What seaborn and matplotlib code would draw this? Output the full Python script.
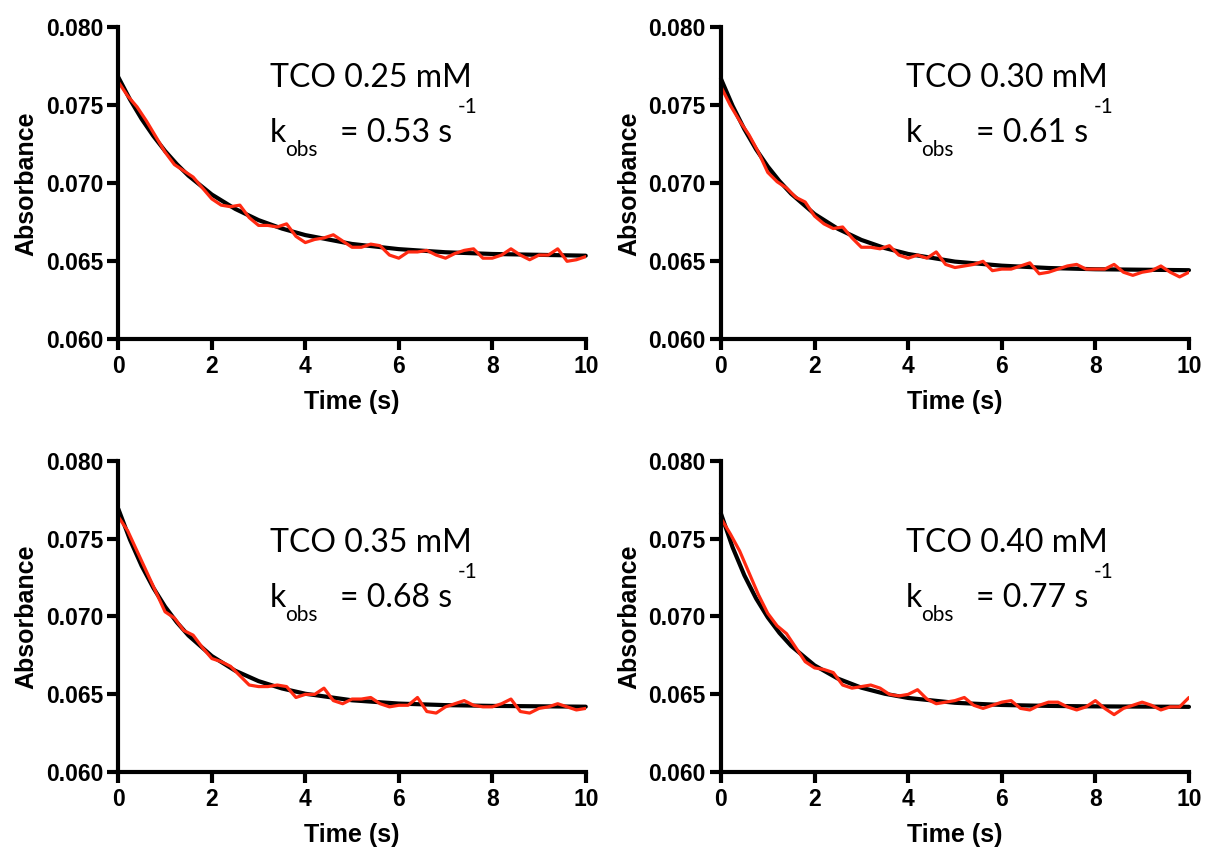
import numpy as np
import pandas as pd
import matplotlib
matplotlib.use("Agg")
import matplotlib.pyplot as plt
import seaborn as sns

# Datos: trazas de absorbancia (rojo) y ajuste exponencial (negro)

time_s = [0.0, 0.2, 0.4, 0.6, 0.8, 1.0, 1.2, 1.4, 1.6, 1.8,
          2.0, 2.2, 2.4, 2.6, 2.8, 3.0, 3.2, 3.4, 3.6, 3.8,
          4.0, 4.2, 4.4, 4.6, 4.8, 5.0, 5.2, 5.4, 5.6, 5.8,
          6.0, 6.2, 6.4, 6.6, 6.8, 7.0, 7.2, 7.4, 7.6, 7.8,
          8.0, 8.2, 8.4, 8.6, 8.8, 9.0, 9.2, 9.4, 9.6, 9.8, 10.0]

abs_025 = [0.0765, 0.0756, 0.0749, 0.0740, 0.0730, 0.0720, 0.0712, 0.0708, 0.0704, 0.0697,
           0.0690, 0.0686, 0.0685, 0.0686, 0.0678, 0.0673, 0.0673, 0.0672, 0.0674, 0.0666,
           0.0662, 0.0664, 0.0665, 0.0667, 0.0663, 0.0659, 0.0659, 0.0661, 0.0660, 0.0654,
           0.0652, 0.0656, 0.0656, 0.0657, 0.0654, 0.0652, 0.0655, 0.0657, 0.0658, 0.0652,
           0.0652, 0.0654, 0.0658, 0.0654, 0.0651, 0.0654, 0.0654, 0.0658, 0.0650, 0.0651, 0.0653]

abs_030 = [0.0762, 0.0750, 0.0740, 0.0731, 0.0720, 0.0707, 0.0701, 0.0697, 0.0691, 0.0688,
           0.0679, 0.0674, 0.0671, 0.0672, 0.0665, 0.0659, 0.0659, 0.0658, 0.0660, 0.0654,
           0.0652, 0.0654, 0.0652, 0.0656, 0.0648, 0.0646, 0.0647, 0.0648, 0.0650, 0.0644,
           0.0645, 0.0645, 0.0647, 0.0649, 0.0642, 0.0643, 0.0645, 0.0647, 0.0648, 0.0645,
           0.0645, 0.0645, 0.0648, 0.0643, 0.0641, 0.0643, 0.0644, 0.0647, 0.0643, 0.0640, 0.0643]

abs_035 = [0.0764, 0.0755, 0.0742, 0.0729, 0.0716, 0.0703, 0.0699, 0.0691, 0.0688, 0.0680,
           0.0673, 0.0671, 0.0668, 0.0662, 0.0656, 0.0655, 0.0655, 0.0656, 0.0655, 0.0648,
           0.0650, 0.0650, 0.0654, 0.0646, 0.0644, 0.0647, 0.0647, 0.0648, 0.0644, 0.0642,
           0.0643, 0.0643, 0.0648, 0.0639, 0.0638, 0.0642, 0.0644, 0.0646, 0.0643, 0.0642,
           0.0642, 0.0644, 0.0647, 0.0639, 0.0638, 0.0641, 0.0642, 0.0644, 0.0642, 0.0640, 0.0641]

abs_040 = [0.0763, 0.0753, 0.0742, 0.0728, 0.0714, 0.0702, 0.0694, 0.0689, 0.0680, 0.0671,
           0.0667, 0.0666, 0.0664, 0.0656, 0.0654, 0.0655, 0.0656, 0.0654, 0.0650, 0.0649,
           0.0650, 0.0653, 0.0647, 0.0644, 0.0645, 0.0646, 0.0648, 0.0643, 0.0641, 0.0643,
           0.0645, 0.0646, 0.0641, 0.0640, 0.0643, 0.0645, 0.0645, 0.0642, 0.0640, 0.0642,
           0.0646, 0.0641, 0.0637, 0.0641, 0.0643, 0.0645, 0.0643, 0.0640, 0.0642, 0.0642, 0.0648]

fit_time = [0.0, 0.25, 0.5, 0.75, 1.0, 1.25, 1.5, 2.0, 2.5, 3.0, 3.5, 4.0, 5.0, 6.0, 7.0, 8.0, 10.0]

fit_025 = [0.0768, 0.07537, 0.07412, 0.07303, 0.07207, 0.07123, 0.07049, 0.06928, 0.06836,
           0.06764, 0.06710, 0.06668, 0.06611, 0.06578, 0.06558, 0.06547, 0.06536]
fit_030 = [0.0767, 0.07496, 0.07347, 0.07218, 0.07108, 0.07014, 0.06933, 0.06803, 0.06708,
           0.06637, 0.06585, 0.06547, 0.06498, 0.06472, 0.06457, 0.06449, 0.06443]
fit_035 = [0.0769, 0.07492, 0.07324, 0.07183, 0.07063, 0.06963, 0.06878, 0.06746, 0.06652,
           0.06585, 0.06538, 0.06504, 0.06462, 0.06441, 0.06431, 0.06426, 0.06421]
fit_040 = [0.0766, 0.07443, 0.07264, 0.07116, 0.06994, 0.06894, 0.06811, 0.06686, 0.06601,
           0.06543, 0.06504, 0.06477, 0.06446, 0.06432, 0.06426, 0.06423, 0.06420]

conc_labels = ['TCO 0.25 mM', 'TCO 0.30 mM', 'TCO 0.35 mM', 'TCO 0.40 mM']
kobs_labels = ['= 0.53 s', '= 0.61 s', '= 0.68 s', '= 0.77 s']

traces = [abs_025, abs_030, abs_035, abs_040]
fits = [fit_025, fit_030, fit_035, fit_040]

sns.set_style('ticks')
plt.rcParams['font.family'] = ['Liberation Sans', 'DejaVu Sans']
plt.rcParams['font.weight'] = 'bold'
for key in ['text.color', 'axes.labelcolor', 'xtick.color', 'ytick.color', 'axes.edgecolor']:
    plt.rcParams[key] = 'black'

fig = plt.figure(figsize=(12.05, 8.51), dpi=100)

# posiciones de los ejes en fraccion de figura
rects = [[0.0982, 0.6013, 0.3879, 0.3666],
         [0.5983, 0.6013, 0.3884, 0.3666],
         [0.0982, 0.0925, 0.3879, 0.3662],
         [0.5983, 0.0925, 0.3884, 0.3662]]

red = '#FF2A12'

for i in range(4):
    ax = fig.add_axes(rects[i])
    row, col = i // 2, i % 2

    sns.lineplot(x=fit_time, y=fits[i], ax=ax, color='black', linewidth=3.0,
                 estimator=None, clip_on=False)
    sns.lineplot(x=time_s, y=traces[i], ax=ax, color=red, linewidth=2.3,
                 estimator=None)

    ax.set_xlim(0, 10)
    ax.set_ylim(0.060, 0.080)
    ax.set_xticks([0, 2, 4, 6, 8, 10])
    ax.set_yticks([0.060, 0.065, 0.070, 0.075, 0.080])
    ax.set_yticklabels(['0.060', '0.065', '0.070', '0.075', '0.080'])
    ax.tick_params(axis='both', direction='out', length=8, width=3, labelsize=16.5, pad=3)
    for lab in ax.get_xticklabels() + ax.get_yticklabels():
        lab.set_fontweight('bold')

    sns.despine(ax=ax)
    ax.spines['left'].set_linewidth(3)
    ax.spines['bottom'].set_linewidth(3)

    ax.set_xlabel('Time (s)', fontsize=18, fontweight='bold', labelpad=9)
    ax.set_ylabel('Absorbance', fontsize=18, fontweight='bold', labelpad=5)

    dx = 0.0712 * col
    dy = -0.102 * row
    ax.text(0.3246 + dx, 0.8096 + dy, conc_labels[i], transform=ax.transAxes,
            fontsize=23, family='Lato', fontweight='normal', va='baseline')
    ax.text(0.3246 + dx, 0.6333 + dy, 'k', transform=ax.transAxes,
            fontsize=23, family='Lato', fontweight='normal', va='baseline')
    ax.text(0.3567 + dx, 0.5875 + dy, 'obs', transform=ax.transAxes,
            fontsize=15, family='Lato', fontweight='normal', va='baseline')
    eq = ax.text(0.4740 + dx, 0.6333 + dy, kobs_labels[i], transform=ax.transAxes,
                 fontsize=23, family='Lato', fontweight='normal', va='baseline')
    # superindice colocado justo a la derecha de "s"
    ax.annotate('-1', xy=(1, 0), xycoords=eq, xytext=(4, 25), textcoords='offset points',
                fontsize=15, family='Lato', fontweight='normal', va='baseline')

fig.savefig('out.png', dpi=100)
